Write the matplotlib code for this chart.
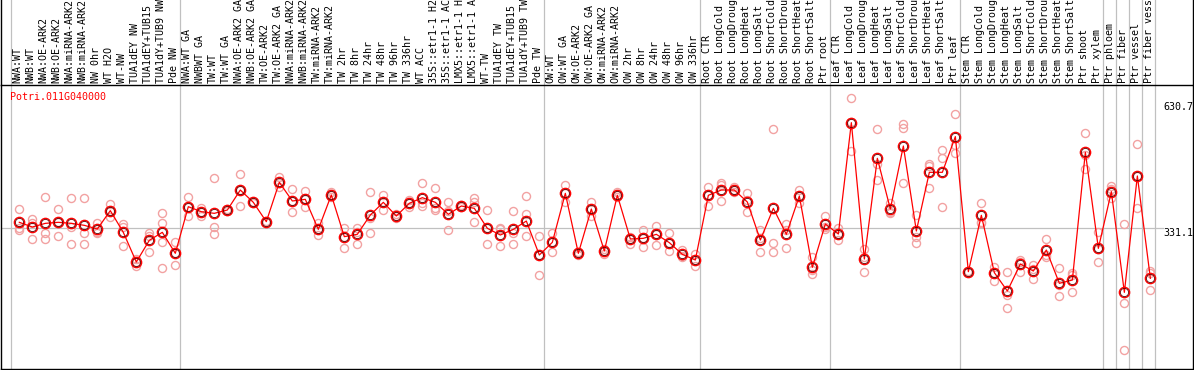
import numpy as np
import matplotlib
matplotlib.use("Agg")
import matplotlib.pyplot as plt
from matplotlib.transforms import blended_transform_factory

# sample labels (columns)
labels = [
    'NWA:WT', 'NWB:WT', 'NWA:OE-ARK2', 'NWB:OE-ARK2', 'NWA:miRNA-ARK2', 'NWB:miRNA-ARK2',
    'NW 0hr', 'WT H2O', 'WT-NW', 'TUA1dEY NW', 'TUA1dEY+TUB15 NW', 'TUA1dY+TUB9 NW', 'Pde NW',
    'NWA:WT GA', 'NWBWT GA', 'TW:WT', 'TW:WT GA', 'NWA:OE-ARK2 GA', 'NWB:OE-ARK2 GA',
    'TW:OE-ARK2', 'TW:OE-ARK2 GA', 'NWA:miRNA-ARK2 GA', 'NWB:miRNA-ARK2 GA', 'TW:miRNA-ARK2',
    'TW:miRNA-ARK2 GA', 'TW 2hr', 'TW 8hr', 'TW 24hr', 'TW 48hr', 'TW 96hr', 'TW 336hr', 'WT ACC',
    '35S::etr1-1 H2O', '35S::etr1-1 ACC', 'LMX5::etr1-1 H2O', 'LMX5::etr1-1 ACC', 'WT-TW',
    'TUA1dEY TW', 'TUA1dEY+TUB15 TW', 'TUA1dY+TUB9 TW', 'Pde TW',
    'OW:WT', 'OW:WT GA', 'OW:OE-ARK2', 'OW:OE-ARK2 GA', 'OW:miRNA-ARK2', 'OW:miRNA-ARK2 GA',
    'OW 2hr', 'OW 8hr', 'OW 24hr', 'OW 48hr', 'OW 96hr', 'OW 336hr',
    'Root CTR', 'Root LongCold', 'Root LongDrought', 'Root LongHeat', 'Root LongSalt',
    'Root ShortCold', 'Root ShortDrought', 'Root ShortHeat', 'Root ShortSalt', 'Ptr root',
    'Leaf CTR', 'Leaf LongCold', 'Leaf LongDrought', 'Leaf LongHeat', 'Leaf LongSalt',
    'Leaf ShortCold', 'Leaf ShortDrought', 'Leaf ShortHeat', 'Leaf ShortSalt', 'Ptr leaf',
    'Stem CTR', 'Stem LongCold', 'Stem LongDrought', 'Stem LongHeat', 'Stem LongSalt',
    'Stem ShortCold', 'Stem ShortDrought', 'Stem ShortHeat', 'Stem ShortSalt',
    'Ptr shoot', 'Ptr xylem', 'Ptr phloem', 'Ptr fiber', 'Ptr vessel', 'Ptr fiber vessel',
]

# mean expression per sample
means = [
    343.5, 332.6, 341.1, 343.5, 341.1, 336.5, 328.0, 370.5, 320.3, 251.6, 301.8, 320.3, 271.7,
    379.7, 368.1, 364.3, 372.0, 418.3, 389.8, 345.0, 436.1, 392.9, 396.7, 327.2, 406.8, 310.3,
    315.7, 360.4, 389.8, 358.1, 387.5, 400.6, 389.8, 362.0, 381.3, 375.9, 329.6, 314.1, 327.2,
    346.5, 267.8,
    297.1, 410.6, 271.7, 374.3, 277.1, 406.0, 304.9, 306.4, 315.7, 296.4, 269.3, 256.2,
    406.0, 418.3, 418.3, 390.5, 302.5, 375.9, 315.7, 404.4, 239.2, 339.6,
    316.4, 574.3, 258.5, 491.7, 374.3, 520.2, 323.4, 459.3, 459.3, 541.9,
    229.2, 359.7, 226.9, 184.4, 246.9, 230.7, 279.4, 202.2, 209.9,
    505.6, 283.2, 414.5, 181.3, 450.8, 213.8,
]

# individual replicates per sample
replicates = [
    [374.3, 331.1, 325.7], [350.4, 342.7, 305.6], [401.4, 318.0, 305.6], [374.3, 343.5, 311.8],
    [399.0, 333.4, 293.3], [399.0, 318.0, 293.3], [342.7, 321.8, 318.0], [385.9, 370.5, 355.0],
    [339.6, 333.4, 288.6], [258.5, 252.4, 243.1], [318.0, 312.6, 275.5],
    [364.3, 341.1, 298.7, 236.9], [297.1, 271.7, 244.6],
    [401.4, 379.7, 358.9], [375.9, 368.1, 358.1], [445.4, 333.4, 315.7], [374.3, 372.0, 370.5],
    [455.4, 418.3, 382.1], [391.3, 389.8, 387.5], [346.5, 345.0, 343.5], [447.7, 433.8, 426.1],
    [420.7, 392.9, 366.6], [416.0, 396.7, 378.2], [341.1, 327.2, 314.1], [414.5, 406.8, 401.4],
    [331.1, 310.3, 283.2], [331.1, 321.8, 293.3], [412.9, 352.7, 319.5], [406.8, 389.8, 372.0],
    [362.8, 358.1, 352.7], [395.2, 387.5, 379.7], [433.8, 387.5, 381.3], [423.0, 375.9, 372.0],
    [389.8, 370.5, 324.9], [383.6, 381.3, 379.7], [400.6, 391.3, 343.5], [372.0, 329.6, 293.3],
    [331.1, 327.2, 288.6], [369.7, 318.0, 293.3], [405.2, 362.8, 311.8], [311.8, 267.8, 220.7],
    [318.0, 297.1, 275.5], [429.9, 410.6, 391.3], [275.5, 271.7, 267.8], [389.8, 374.3, 358.1],
    [280.9, 277.1, 269.3], [414.5, 406.0, 402.9], [310.3, 304.9, 293.3], [325.7, 306.4, 285.5],
    [335.7, 315.7, 291.0], [318.0, 296.4, 277.8], [279.4, 266.3, 263.9], [269.3, 256.2, 243.1],
    [424.5, 406.0, 382.1], [433.8, 429.9, 393.6], [424.5, 418.3, 414.5], [410.6, 395.2, 366.6],
    [325.7, 306.4, 275.5], [558.8, 294.8, 274.0], [339.6, 325.7, 283.2], [418.3, 404.4, 389.0],
    [263.9, 233.1, 223.0], [358.1, 333.4, 327.2],
    [331.1, 316.4, 302.5], [630.7, 576.6, 508.7], [280.9, 263.9, 229.2], [558.8, 478.5, 441.5],
    [387.5, 368.1, 364.3], [570.4, 561.2, 433.8], [360.4, 310.3, 294.8], [478.5, 473.9, 422.2],
    [511.0, 491.7, 378.2], [593.6, 522.6, 504.8],
    [228.0, 229.2, 230.5], [387.5, 345.0, 341.1], [240.8, 226.9, 207.6], [227.7, 175.2, 144.3],
    [256.2, 252.4, 229.2], [244.6, 235.4, 211.4], [304.9, 267.8, 263.9], [236.9, 198.3, 172.8],
    [226.9, 221.5, 181.3],
    [549.6, 499.4, 467.0], [321.8, 280.9, 252.4], [427.6, 420.7, 399.0], [338.8, 155.9, 47.8],
    [524.1, 450.8, 375.9], [230.7, 225.3, 186.7],
]

# last sample index of each group (gray separators)
group_ends = [-1, 12, 40, 52, 62, 72, 83, 84, 85, 86, 87]

gene = 'Potri.011G040000'
y_max = 630.7
y_mid = 331.1

mono = 'DejaVu Sans Mono'
fs = 7.2
grid_c = '#c0c0c0'

fig = plt.figure(figsize=(11.94, 3.70), dpi=100)
ax = fig.add_axes([1 / 1194, 1 / 370, 1192 / 1194, 284 / 370])
ax.set_xlim(-1.408, 90.28)
ax.set_ylim(3.8, 661.5)
ax.set_xticks([])
ax.set_yticks([])
for s in ax.spines.values():
    s.set_color('black')
    s.set_linewidth(1.0)

x = np.arange(len(labels))
head = 85 / 284  # header height in axes units

# group separators run through the header too
for g in group_ends:
    ax.axvline(g + 0.36, ymin=0, ymax=1 + head, color=grid_c, lw=0.9,
               clip_on=False, zorder=1)
# box edges around header
ax.plot([0, 0], [1, 1 + head], transform=ax.transAxes, color='black', lw=1.0, clip_on=False)
ax.plot([1, 1], [1, 1 + head], transform=ax.transAxes, color='black', lw=1.0, clip_on=False)

ax.plot([-1.408, 88.0], [y_mid, y_mid], color=grid_c, lw=0.9, zorder=1)

# replicates
for i, reps in enumerate(replicates):
    ax.plot([i] * len(reps), reps, 'o', ms=5.8, mfc='none', mec='#f2a2a2', mew=1.0, zorder=2)

# means
ax.plot(x, means, '-', color='red', lw=0.9, zorder=3)
ax.plot(x, means, 'o', ms=7.4, mfc='none', mec='red', mew=1.0, zorder=4)
ax.plot(x, means, 'o', ms=5.9, mfc='none', mec='#600000', mew=0.6, zorder=5)

# rotated sample names in the header
trans = blended_transform_factory(ax.transData, fig.transFigure)
for i, lab in enumerate(labels):
    ax.text(i - 0.12, (370 - 83) / 370, lab, rotation=90, ha='center', va='bottom',
            family=mono, fontsize=fs, transform=trans, clip_on=False)

ax.text(-0.72, 0.975, gene, transform=blended_transform_factory(ax.transData, ax.transAxes),
        ha='left', va='top', family=mono, fontsize=fs, color='red')

# value labels at the right
xr = 87.98
ax.annotate(f'{y_max}', (xr, y_max), xytext=(0, -8.5), textcoords='offset pixels',
            ha='left', va='center', family=mono, fontsize=fs)
ax.annotate(f'{y_mid}', (xr, y_mid), xytext=(0, -5), textcoords='offset pixels',
            ha='left', va='center', family=mono, fontsize=fs)
ax.annotate('0', (xr, 0), xytext=(0, 8.5), textcoords='offset pixels',
            ha='left', va='center', family=mono, fontsize=fs)

fig.savefig('out.png', dpi=100)
